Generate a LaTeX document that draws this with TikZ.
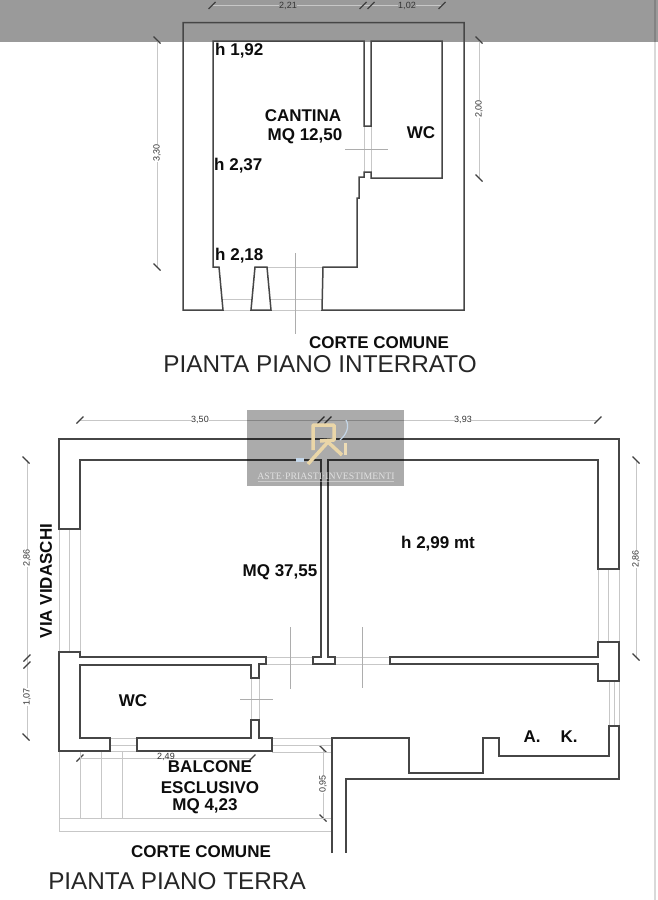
\documentclass[tikz,border=0pt]{standalone}
\usepackage{fontspec}
\setmainfont{Liberation Sans}
\newfontfamily\markfont{Liberation Serif}
\definecolor{bandgrey}{HTML}{9A9A9A}
\definecolor{wallgrey}{HTML}{464646}
\definecolor{logogold}{HTML}{EAD6A8}
\definecolor{logoblue}{HTML}{C4D6E8}
\tikzset{
	wall/.style={line width=1.5pt, draw=wallgrey, line join=miter},
	thin line/.style={line width=0.8pt, draw=black!22},
	axis line/.style={line width=0.8pt, draw=black!32},
	tick/.style={line width=1.2pt, draw=black!75},
	room label/.style={font=\bfseries\fontsize{17}{17}\selectfont, text=black!95, inner sep=0pt, align=center},
	dim label/.style={font=\fontsize{9}{10}\selectfont, text=black!80, inner sep=0.5pt, fill=white},
	plan title/.style={font=\fontsize{24.3}{24}\selectfont, text=black!85, inner sep=0pt},
}
% slanted ticks of the dimension lines
\def\tickup(#1,#2){\draw[tick] (#1-3.5,#2+3.5) -- (#1+3.5,#2-3.5);}
\def\tickdown(#1,#2){\draw[tick] (#1-3.5,#2-3.5) -- (#1+3.5,#2+3.5);}

\begin{document}
\begin{tikzpicture}[x=1pt, y=-1pt]
			\useasboundingbox (0, 0) rectangle (658, 900);
			\fill[white] (0, 0) rectangle (658, 900);
			\fill[bandgrey] (0, 0) rectangle (658, 42);
			\draw[black, opacity=0.15, line width=1.2pt] (655, 0) -- (655, 900);
			
			%%%%% PIANO INTERRATO %%%%%
			% dimensions
			\draw[thin line] (212, 5.5) -- (442, 5.5);
			\tickup(212, 5.5) \tickup(363, 5.5) \tickup(371, 5.5) \tickup(442, 5.5)
			\node[dim label, fill=bandgrey, text=black!80] (dimA) at (288, 5.5) {2,21};
			\node[dim label, fill=bandgrey, text=black!80] (dimB) at (407, 5.5) {1,02};
			\draw[thin line] (157, 40) -- (157, 267);
			\tickdown(157, 40) \tickdown(157, 267)
			\node[dim label, rotate=90] (dimC) at (157, 153) {3,30};
			\draw[thin line] (479, 40) -- (479, 178);
			\tickdown(479, 40) \tickdown(479, 178)
			\node[dim label, rotate=90] (dimD) at (479, 109) {2,00};
			
			% openings and door axes
			\draw[thin line] (364, 126) -- (364, 172) (371, 126) -- (371, 172);
			\draw[axis line] (345, 149) -- (388, 149);
			\draw[thin line] (267, 267) -- (323, 267);
			\draw[thin line] (223, 299) -- (251, 299) (271, 299) -- (322, 299);
			\draw[thin line] (223, 310) -- (322, 310);
			\draw[axis line] (295, 253) -- (295, 334);
			
			% walls
			\draw[wall] (183, 310) -- (183, 22.5) -- (464, 22.5) -- (464, 310) -- (322, 310) -- (323, 267) -- (357, 267)
				-- (357, 198) -- (359, 198) -- (359, 177) -- (364, 177) -- (364, 172) -- (371, 172) -- (371, 178)
				-- (442, 178) -- (442, 41) -- (371, 41) -- (371, 126) -- (364, 126) -- (364, 41) -- (213, 41)
				-- (213, 267) -- (219, 267) -- (223, 310) -- cycle;
			\draw[wall] (255, 267) -- (267, 267) -- (271, 310) -- (251, 310) -- cycle;
			
			% labels
			\node[room label, anchor=west] (hA) at (215, 51) {h 1,92};
			\node[room label] (cantina) at (303, 115.5) {CANTINA};
			\node[room label] (mqA) at (305, 136) {MQ 12,50};
			\node[room label, anchor=west] (hB) at (214, 166) {h 2,37};
			\node[room label] (wcA) at (421, 132.5) {WC};
			\node[room label, anchor=west] (hC) at (215, 256) {h 2,18};
			\node[room label] (corteA) at (379, 342.5) {CORTE COMUNE};
			\node[plan title] (titleA) at (320, 364) {PIANTA PIANO INTERRATO};
			
			%%%%% PIANO TERRA %%%%%
			% dimensions
			\draw[thin line] (80, 420) -- (598, 420);
			\tickup(80, 420) \tickup(321, 420) \tickup(328, 420) \tickup(598, 420)
			\node[dim label] (dimE) at (200, 420) {3,50};
			\node[dim label] (dimF) at (463, 420) {3,93};
			\draw[thin line] (27, 460) -- (27, 738);
			\tickdown(26, 460) \tickup(27, 658) \tickup(27, 665) \tickdown(26, 737)
			\node[dim label, rotate=90] (dimG) at (27, 558) {2,86};
			\node[dim label, rotate=90] (dimH) at (27, 697) {1,07};
			\draw[thin line] (636, 460) -- (636, 657);
			\tickdown(636, 460) \tickdown(636, 657)
			\node[dim label, rotate=90] (dimI) at (636, 559) {2,86};
			\draw[thin line] (80, 758) -- (252, 758);
			\tickup(80, 758) \tickup(252, 758)
			\node[dim label, fill=none] (dimL) at (166, 757) {2,49};
			\draw[thin line] (323, 749) -- (323, 818);
			\tickdown(323, 749) \tickdown(323, 818)
			\node[dim label, rotate=90] (dimM) at (323, 784) {0,95};
			
			% windows, openings and door axes
			\draw[thin line] (59, 529) -- (59, 652) (69, 529) -- (69, 652) (80, 529) -- (80, 652);
			\draw[thin line] (598, 569) -- (598, 642) (608, 569) -- (608, 642) (619, 569) -- (619, 642);
			\draw[thin line] (609, 681) -- (609, 726) (614, 681) -- (614, 726) (619, 681) -- (619, 726);
			\draw[thin line] (266, 657) -- (313, 657) (266, 664) -- (313, 664);
			\draw[thin line] (335, 657) -- (390, 657) (335, 664) -- (390, 664);
			\draw[thin line] (251, 678) -- (251, 720) (259, 678) -- (259, 720);
			\draw[thin line] (110, 738) -- (137, 738) (110, 745) -- (137, 745) (110, 751) -- (137, 751);
			\draw[axis line] (290, 627) -- (290, 689);
			\draw[axis line] (362, 627) -- (362, 688);
			\draw[axis line] (240, 699) -- (273, 699);
			
			% balcony
			\draw[thin line] (272, 738) -- (332, 738) (272, 745) -- (332, 745) (272, 752) -- (332, 752);
			\draw[thin line] (59, 751) -- (59, 831) -- (332, 831);
			\draw[thin line] (59, 818) -- (332, 818);
			\draw[thin line] (80, 751) -- (80, 818) (101, 751) -- (101, 818) (122, 751) -- (122, 818);
			
			% walls
			\draw[wall] (59, 529) -- (59, 439) -- (619, 439) -- (619, 569) -- (598, 569) -- (598, 460) -- (328, 460)
				-- (328, 657) -- (335, 657) -- (335, 664) -- (313, 664) -- (313, 657) -- (321, 657) -- (321, 460)
				-- (80, 460) -- (80, 529) -- cycle;
			\draw[wall] (390, 657) -- (598, 657) -- (598, 642) -- (619, 642) -- (619, 681) -- (598, 681) -- (598, 664)
				-- (390, 664) -- cycle;
			\draw[wall] (59, 652) -- (80, 652) -- (80, 657) -- (266, 657) -- (266, 664) -- (259, 664) -- (259, 678)
				-- (251, 678) -- (251, 665) -- (80, 665) -- (80, 738) -- (110, 738) -- (110, 751) -- (59, 751) -- cycle;
			\draw[wall] (137, 738) -- (251, 738) -- (251, 720) -- (259, 720) -- (259, 738) -- (272, 738) -- (272, 751)
				-- (137, 751) -- cycle;
			\draw[wall] (332, 853) -- (332, 738) -- (409, 738) -- (409, 773) -- (483, 773) -- (483, 738) -- (499, 738)
				-- (499, 756) -- (609, 756) -- (609, 726) -- (619, 726) -- (619, 779) -- (346, 779) -- (346, 853);
			
			% labels
			\node[room label, rotate=90] (via) at (46, 581) {VIA VIDASCHI};
			\node[room label] (mqB) at (280, 572.5) {MQ 37,55};
			\node[room label] (hD) at (438, 543.5) {h 2,99 mt};
			\node[room label] (wcB) at (133, 700.5) {WC};
			\node[room label] (akA) at (532, 736.5) {A.};
			\node[room label] (akK) at (569, 736.5) {K.};
			\node[room label] (balcone) at (210, 767) {BALCONE};
			\node[room label] (esclusivo) at (210, 787.5) {ESCLUSIVO};
			\node[room label] (mqC) at (205, 806) {MQ 4,23};
			\node[room label] (corteB) at (201, 851.5) {CORTE COMUNE};
			\node[plan title] (titleB) at (177, 881) {PIANTA PIANO TERRA};
			
			%%%%% WATERMARK %%%%%
			\fill[black, opacity=0.33] (247, 410) rectangle (404, 486);
			\draw[logogold, line width=3.5pt, line join=round] (313, 450) -- (313, 425) -- (334, 425) -- (334, 440) -- (320, 441);
			\draw[logogold, line width=3.5pt] (308, 464) -- (328, 442) -- (342, 455);
			\draw[logogold!85!white, line width=3pt] (345.5, 443) -- (345.5, 455);
			\draw[logoblue, line width=1.2pt] (346, 420) .. controls (350, 427) and (346, 435) .. (340, 440);
			\fill[logoblue] (296, 458) rectangle (304, 462);
			\node[font=\fontsize{9.8}{9}\selectfont\markfont, text=white!88!black, inner sep=0pt] (mark) at (326, 476) {ASTE·PRIASTI·INVESTIMENTI};
			\draw[white, opacity=0.4, line width=0.5pt] (258, 481.5) -- (394, 481.5);
			%%%%% END %%%%%
\end{tikzpicture}
\end{document}
